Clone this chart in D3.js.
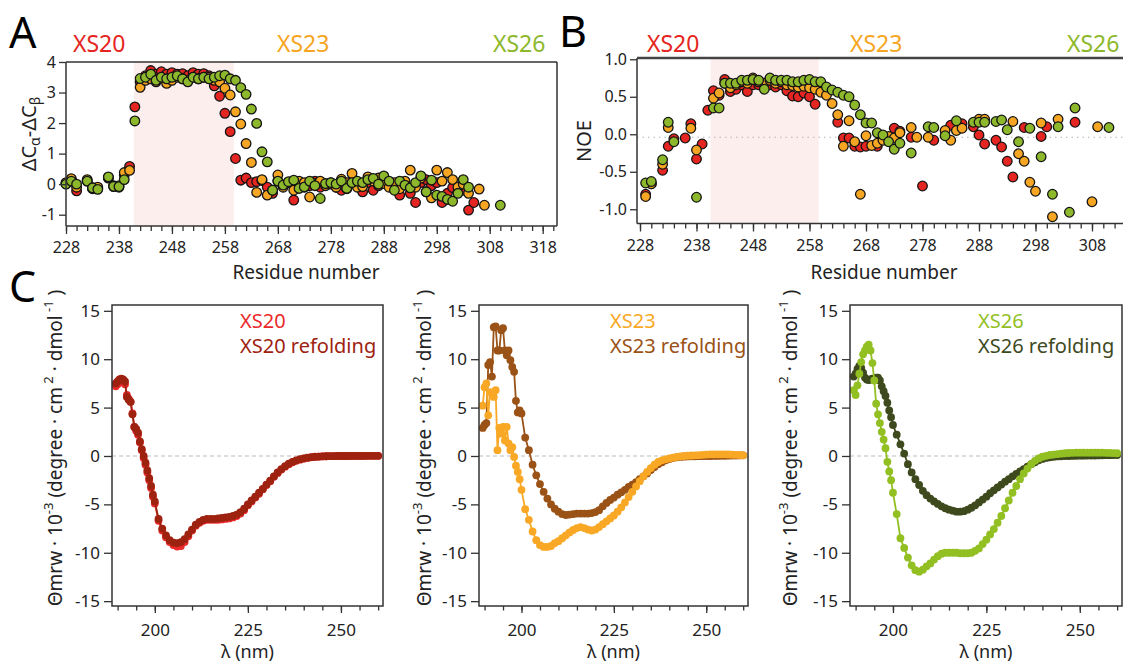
<!DOCTYPE html>
<html>
<head>
<meta charset="utf-8">
<title>XS20 / XS23 / XS26</title>
<style>
  body { margin: 0; background: #fff; }
  svg text { font-family: "Noto Sans", "DejaVu Sans", sans-serif; fill: #222; }
</style>
</head>
<body>
<svg id="fig" width="1123" height="664"></svg>
<script src="https://cdn.jsdelivr.net/npm/d3@7"></script>
<script>
// ---------- data: panels A and B (per residue, null = not observed) ----------
var residues = [228,229,230,231,232,233,234,235,236,237,238,239,240,241,242,243,244,245,246,247,
                248,249,250,251,252,253,254,255,256,257,258,259,260,261,262,263,264,265,266,267,
                268,269,270,271,272,273,274,275,276,277,278,279,280,281,282,283,284,285,286,287,
                288,289,290,291,292,293,294,295,296,297,298,299,300,301,302,303,304,305,306,307,
                308,309,310,311];

// secondary chemical shifts dCa-dCb
var csXS20 = [0.02,0.15,-0.22,null,0.1,-0.12,-0.15,null,0.2,-0.05,-0.1,0.3,0.58,2.53,3.35,3.55,3.72,3.6,3.68,3.6,
              3.65,3.6,3.62,3.55,3.65,3.6,3.62,3.55,3.22,2.88,2.32,1.72,0.84,0.13,0.2,0.05,0.08,0.12,-0.1,-0.3,
              0.1,-0.05,0.05,-0.52,0,-0.1,-0.05,0.1,-0.1,0,0.05,-0.1,-0.2,-0.15,0.1,-0.05,-0.25,0.05,-0.2,-0.05,
              0.1,0,-0.1,-0.36,0,-0.3,-0.6,0.05,0.15,-0.05,0.05,-0.6,-0.3,-0.11,-0.25,-0.2,-0.85,-0.6,null,null,
              null,null,null,null];
var csXS23 = [0.05,0.18,-0.1,null,0.15,-0.15,-0.1,null,0.22,-0.08,-0.05,0.38,0.45,null,3.17,3.4,3.45,3.35,3.5,3.3,
              3.4,3.5,3.45,3.4,3.5,3.45,3.5,3.5,3.4,3.35,3.14,2.92,2.37,1.97,1.33,0.71,-0.27,0.15,-0.36,-0.2,
              0.3,-0.1,0.05,-0.2,0.1,0.05,-0.42,0.02,0.1,-0.05,0,-0.1,0.16,0.05,0.35,-0.1,-0.08,0.24,0.1,0.2,
              0.02,-0.1,0.05,-0.15,0.1,0.46,-0.1,0.2,-0.25,-0.45,0.46,0.1,0.38,0.15,-0.1,0,-0.3,null,-0.16,-0.69,
              null,null,null,null];
var csXS26 = [0,0.1,0,null,0.1,-0.12,-0.17,null,0.24,-0.07,-0.08,0.15,null,2.07,3.46,3.5,3.6,3.4,3.5,3.45,
              3.5,3.55,3.45,3.35,3.5,3.45,3.5,3.45,3.5,3.55,3.57,3.45,3.4,3.16,2.94,2.46,1.99,1.06,0.73,-0.2,
              0.1,-0.03,0.08,0.13,-0.14,-0.09,0.1,-0.05,-0.47,0.02,0.05,0,0.1,-0.14,0.05,0.1,0.05,0.15,0.19,0,
              0.27,0.1,-0.2,0.1,-0.03,-0.12,0.05,0.27,-0.25,0.13,-0.36,-0.4,-0.5,-0.56,-0.3,0.15,-0.1,null,null,null,
              null,null,-0.69,null];

// heteronuclear NOE
var noeXS20 = [null,-0.8,-0.66,null,-0.48,-0.16,-0.06,null,-0.05,0.14,-0.33,-0.13,0.32,0.58,0.52,0.73,0.57,0.6,0.66,0.57,
               0.66,0.66,0.68,0.66,0.63,0.66,0.58,0.51,0.5,0.55,0.5,0.4,null,null,null,0.16,-0.05,-0.05,-0.16,-0.17,
               -0.16,null,-0.16,null,null,0.08,0.04,null,-0.04,null,-0.69,null,-0.08,null,null,0.12,null,0.14,null,0.1,
               -0.01,-0.13,null,-0.08,-0.17,-0.36,-0.57,null,0.09,null,null,-0.03,0.1,null,null,null,null,0.16,null,null,
               null,null,null,null];
var noeXS23 = [null,-0.83,-0.66,null,-0.4,0.09,null,null,null,0.08,-0.21,null,null,0.48,0.55,0.68,0.62,0.66,0.7,0.68,
               0.75,0.7,0.68,0.72,0.68,0.7,0.66,0.65,0.63,0.64,0.62,0.6,0.56,0.52,0.41,0.26,-0.16,0.18,-0.1,-0.8,
               -0.02,-0.15,-0.12,-0.08,-0.03,-0.05,0.02,null,0.09,-0.04,null,-0.04,null,null,0.05,-0.08,0.05,0.08,null,null,
               0.2,0.2,null,null,null,null,0.17,-0.26,-0.36,-0.64,-0.76,0.15,null,-1.1,0.2,null,null,null,null,null,
               -0.9,0.1,null,null];
var noeXS26 = [null,-0.65,-0.63,null,-0.34,0.16,-0.1,null,null,null,-0.84,null,null,0.35,0.35,0.68,0.68,0.68,0.72,0.72,
               0.73,0.72,0.6,0.75,0.72,0.72,0.72,0.7,0.7,0.72,0.73,0.7,0.7,0.63,0.59,0.56,0.52,0.5,0.39,0.26,
               0.15,0.15,0.02,-0.01,-0.1,-0.2,-0.12,null,-0.25,null,null,0.1,0.09,null,-0.02,null,0.18,null,null,0.16,
               0.16,0.16,null,0.17,0.19,0.06,null,-0.1,null,0.08,null,-0.3,null,-0.8,0.1,null,-1.04,0.35,null,null,
               null,null,null,0.09];

var residueTicks = [228,238,248,258,268,278,288,298,308,318];
var variantNames = ["XS20", "XS23", "XS26"];

// ---------- data: panel C (CD spectra) ----------
var wavelength = [189.5,190,190.5,191,191.5,192,192.5,193,193.5,194,194.5,195,195.5,196,196.5,197,197.5,198,198.5,199,199.5,
                  200,201,202,203,204,205,206,207,208,209,210,211,212,213,214,215,216,217,218,219,
                  220,221,222,223,224,225,226,227,228,229,230,231,232,233,234,235,236,237,238,239,
                  240,241,242,243,244,245,246,247,248,249,250,251,252,253,254,255,256,257,258,259,260];

var cdXS20 = [7.2,7.4,7.6,7.9,7.8,7.4,6.3,5.9,5.6,4.4,3.0,2.6,2.2,1.4,0.6,-0.2,-0.9,-1.7,-2.5,-3.3,-4.2,
              -4.9,-6.7,-7.7,-8.4,-8.9,-9.2,-9.35,-9.3,-8.9,-8.3,-7.7,-7.2,-6.9,-6.7,-6.6,-6.6,-6.6,-6.6,-6.55,-6.5,
              -6.45,-6.35,-6.2,-5.95,-5.6,-5.1,-4.7,-4.3,-3.9,-3.45,-3.0,-2.6,-2.15,-1.75,-1.4,-1.1,-0.85,-0.65,-0.5,-0.38,
              -0.28,-0.2,-0.14,-0.1,-0.07,-0.05,-0.03,-0.02,-0.01,0,0,0,0.01,0.01,0.01,0.01,0.02,0.02,0.02,0.02,0.02];
var cdXS20ref = [7.5,7.7,7.9,8.0,7.9,7.7,6.1,5.8,5.6,4.3,3.0,2.8,2.4,1.5,0.7,0.0,-0.7,-1.5,-2.3,-3.1,-4.0,
                 -4.7,-6.5,-7.5,-8.2,-8.7,-8.95,-9.0,-8.9,-8.6,-8.1,-7.6,-7.1,-6.8,-6.6,-6.5,-6.5,-6.5,-6.45,-6.4,-6.35,
                 -6.3,-6.2,-6.05,-5.8,-5.45,-5.0,-4.6,-4.2,-3.8,-3.4,-2.95,-2.55,-2.1,-1.7,-1.35,-1.05,-0.8,-0.6,-0.45,-0.33,
                 -0.24,-0.17,-0.12,-0.08,-0.06,-0.04,-0.03,-0.02,-0.01,0,0,0,0,0.01,0.01,0.01,0.01,0.02,0.02,0.02,0.02];
var cdXS23 = [5.2,7.1,7.5,4.2,6.6,6.5,6.1,6.8,0.6,2.9,2.3,3.0,1.6,3.0,1.3,0.6,0.9,-0.1,-1.0,-1.65,-2.4,
              -3.5,-5.5,-6.6,-7.8,-8.7,-9.2,-9.4,-9.4,-9.3,-9.0,-8.8,-8.5,-8.2,-7.9,-7.65,-7.45,-7.35,-7.45,-7.6,-7.7,
              -7.6,-7.35,-7.05,-6.75,-6.45,-6.15,-5.75,-5.3,-4.8,-4.25,-3.7,-3.15,-2.6,-2.1,-1.65,-1.25,-0.9,-0.62,-0.45,-0.35,
              -0.25,-0.17,-0.1,-0.04,0.0,0.03,0.05,0.07,0.08,0.12,0.15,0.17,0.17,0.17,0.17,0.17,0.16,0.14,0.12,0.1,0.07];
var cdXS23ref = [2.9,3.2,3.4,9.4,9.7,8.2,13.3,13.4,10.9,10.9,13.0,13.2,10.9,10.4,10.9,9.9,9.2,8.7,5.7,4.5,4.7,
                 4.4,1.9,0.6,-0.9,-2.0,-2.9,-3.7,-4.4,-5.0,-5.45,-5.75,-6.0,-6.1,-6.05,-6.0,-5.95,-5.95,-5.95,-5.95,-5.9,
                 -5.8,-5.6,-5.2,-4.85,-4.55,-4.3,-4.0,-3.75,-3.5,-3.2,-2.95,-2.7,-2.4,-2.1,-1.8,-1.45,-1.15,-0.85,-0.65,-0.45,
                 -0.32,-0.22,-0.14,-0.1,-0.07,-0.05,-0.04,-0.03,-0.02,-0.01,0,0,0.01,0.01,0.02,0.02,0.03,0.04,0.05,0.06,0.07];
var cdXS26 = [6.8,6.3,7.3,8.5,9.7,10.5,10.9,11.3,11.5,10.9,9.6,7.8,5.4,4.3,3.4,2.5,1.7,0.8,-0.6,-1.6,-2.5,
              -3.8,-6.0,-8.5,-9.5,-10.5,-11.3,-11.8,-11.95,-11.75,-11.4,-11.1,-10.7,-10.35,-10.1,-10.0,-10.0,-10.0,-10.0,-10.05,-10.05,
              -10.05,-10.0,-9.8,-9.55,-9.1,-8.65,-8.1,-7.55,-6.9,-6.2,-5.4,-4.6,-3.8,-3.1,-2.4,-1.8,-1.3,-0.85,-0.5,-0.25,
              -0.08,0.02,0.1,0.15,0.2,0.24,0.28,0.31,0.33,0.34,0.34,0.34,0.34,0.34,0.34,0.34,0.34,0.33,0.32,0.3,0.28];
var cdXS26ref = [8.2,8.5,9.0,9.3,9.1,8.6,8.1,7.9,7.85,7.9,8.0,7.9,8.1,8.1,7.8,7.2,6.7,6.2,5.5,4.7,4.0,
                 3.2,2.2,1.2,0.25,-0.85,-1.7,-2.4,-3.0,-3.6,-4.05,-4.4,-4.7,-4.95,-5.2,-5.4,-5.55,-5.65,-5.75,-5.75,-5.7,
                 -5.55,-5.35,-5.1,-4.8,-4.5,-4.2,-3.85,-3.55,-3.25,-2.95,-2.65,-2.4,-2.1,-1.85,-1.6,-1.35,-1.1,-0.85,-0.65,-0.45,
                 -0.3,-0.2,-0.13,-0.08,-0.05,-0.03,-0.01,0,0.01,0.02,0.03,0.03,0.04,0.05,0.05,0.06,0.07,0.08,0.08,0.09,0.1];

var cdYTicks = [15,10,5,0,-5,-10,-15];
var cdXTicks = [200,225,250];

// ---------- colours ----------
var dotColors = ["#e52521", "#f6a623", "#8db82c"];
var cdColors = {
  XS20: ["#ea2a2a", "#9e2210"],
  XS23: ["#f8a825", "#9a5216"],
  XS26: ["#92bf22", "#3e4a1e"]
};

var svg = d3.select("#fig");
var FONT = '"Noto Sans", "DejaVu Sans", sans-serif';

function dash(f) {
  return function(d) { return d3.format(f)(d).replace("\u2212", "-"); };
}

function styleAxis(g, size) {
  g.attr("font-family", FONT).attr("font-size", size || 16);
  g.select(".domain").remove();
  g.selectAll(".tick line").attr("stroke", "#333").attr("stroke-width", 1.3);
  g.selectAll(".tick text").attr("fill", "#222");
}

// minor ticks only: no labels
function minorAxis(g) {
  styleAxis(g);
  g.selectAll(".tick text").remove();
}

// ---------- scatter panels A and B ----------
function scatterPanel(p) {
  var g = svg.append("g");
  var x = d3.scaleLinear().domain(p.xDomain).range([p.left, p.right]);
  var y = d3.scaleLinear().domain(p.yDomain).range([p.bottom, p.top]);

  g.append("rect")
    .attr("x", x(p.band[0])).attr("y", p.top)
    .attr("width", x(p.band[1]) - x(p.band[0]))
    .attr("height", p.bottom - p.top)
    .attr("fill", "#fdeeee");

  if (p.zeroLine != null) {
    g.append("line")
      .attr("x1", p.left).attr("x2", p.right)
      .attr("y1", y(p.zeroLine)).attr("y2", y(p.zeroLine))
      .attr("stroke", "#b5b5b5").attr("stroke-width", 1.2)
      .attr("stroke-dasharray", "1.5,4");
  }

  p.series.forEach(function(vals, si) {
    var pts = residues.map(function(r, i) { return [r, vals[i]]; })
                      .filter(function(d) { return d[1] != null; });
    g.selectAll(null).data(pts).enter().append("circle")
      .attr("cx", function(d) { return x(d[0]); })
      .attr("cy", function(d) { return y(d[1]); })
      .attr("r", 4.8)
      .attr("fill", dotColors[si])
      .attr("stroke", "#141414")
      .attr("stroke-width", 1.3);
  });

  // axes
  var gxm = g.append("g").attr("transform", "translate(0," + p.bottom + ")")
    .call(d3.axisBottom(x).tickValues(d3.range(228, p.xDomain[1], 2)).tickSize(5));
  minorAxis(gxm);
  var gx = g.append("g").attr("transform", "translate(0," + p.bottom + ")")
    .call(d3.axisBottom(x).tickValues(residueTicks.filter(function(t) { return t <= p.xDomain[1]; }))
      .tickSize(8).tickPadding(8).tickFormat(d3.format("d")));
  styleAxis(gx);
  var gy = g.append("g").attr("transform", "translate(" + p.left + ",0)")
    .call(d3.axisLeft(y).tickValues(p.yTicks).tickSize(7).tickPadding(3).tickFormat(dash(p.yFormat)));
  styleAxis(gy);

  // frame
  var frame = g.append("g").attr("fill", "none").attr("stroke", "#333").attr("stroke-width", 1.5);
  frame.append("line").attr("x1", p.left).attr("x2", p.left).attr("y1", p.top).attr("y2", p.bottom);
  frame.append("line").attr("x1", p.left).attr("x2", p.right).attr("y1", p.bottom).attr("y2", p.bottom);
  frame.append("line").attr("x1", p.left).attr("x2", p.right).attr("y1", p.top).attr("y2", p.top)
    .attr("stroke-width", p.topWidth || 1.5).attr("stroke", p.topColor || "#333");
  if (p.rightLine) {
    frame.append("line").attr("x1", p.right).attr("x2", p.right).attr("y1", p.top).attr("y2", p.bottom);
  }

  // variant headers
  variantNames.forEach(function(n, i) {
    svg.append("text").attr("x", p.headerX[i]).attr("y", 52)
      .attr("font-size", 23).style("fill", dotColors[i]).text(n);
  });

  svg.append("text").attr("x", p.xTitleX).attr("y", 279)
    .attr("text-anchor", "middle").attr("font-size", 19).text("Residue number");
  return { x: x, y: y };
}

scatterPanel({
  left: 66, right: 557, top: 62, bottom: 226,
  xDomain: [228, 320.7], yDomain: [-1.37, 4],
  yTicks: [4, 3, 2, 1, 0, -1], yFormat: "d",
  band: [240.8, 259.7],
  series: [csXS20, csXS23, csXS26],
  rightLine: true,
  headerX: [73, 277, 493],
  xTitleX: 306
});

scatterPanel({
  left: 637, right: 1135, top: 58, bottom: 223.5,
  xDomain: [227.47, 227.47 + 498 / 5.65], yDomain: [-1.19, 1.017],
  yTicks: [1, 0.5, 0, -0.5, -1], yFormat: ".1f",
  band: [240.5, 259.6],
  zeroLine: -0.04,
  series: [noeXS20, noeXS23, noeXS26],
  rightLine: false, topWidth: 2.6, topColor: "#444",
  headerX: [647, 850, 1067],
  xTitleX: 884
});

// y titles of A and B
var yA = svg.append("text").attr("transform", "translate(36,134) rotate(-90)")
  .attr("text-anchor", "middle").attr("font-size", 20);
yA.append("tspan").text("\u0394C");
yA.append("tspan").attr("font-size", 14).attr("dy", 4).text("\u03b1");
yA.append("tspan").attr("dy", -4).text("-\u0394C");
yA.append("tspan").attr("font-size", 14).attr("dy", 4).text("\u03b2");

svg.append("text").attr("transform", "translate(591,141) rotate(-90)")
  .attr("text-anchor", "middle").attr("font-size", 20).text("NOE");

// ---------- CD panels ----------
function cdPanel(p) {
  var g = svg.append("g");
  var x = d3.scaleLinear().domain([188.5, 261.3]).range([p.left, p.right]);
  var y = d3.scaleLinear().domain([-15.5, 15.6]).range([606, 305]);
  var cols = cdColors[p.name];

  g.append("line")
    .attr("x1", p.left).attr("x2", p.right).attr("y1", y(0)).attr("y2", y(0))
    .attr("stroke", "#bdbdbd").attr("stroke-width", 1.2).attr("stroke-dasharray", "4,3");

  var line = d3.line().x(function(d) { return x(d[0]); }).y(function(d) { return y(d[1]); });
  p.order.forEach(function(k) {
    var vals = p.series[k];
    var pts = wavelength.map(function(w, i) { return [w, vals[i]]; });
    g.append("path").datum(pts).attr("d", line)
      .attr("fill", "none").attr("stroke", cols[k]).attr("stroke-width", 1.8);
    g.selectAll(null).data(pts).enter().append("circle")
      .attr("cx", function(d) { return x(d[0]); })
      .attr("cy", function(d) { return y(d[1]); })
      .attr("r", 3.9).attr("fill", cols[k]);
  });

  var gxm = g.append("g").attr("transform", "translate(0,606)")
    .call(d3.axisBottom(x).tickValues(d3.range(190, 261, 5)).tickSize(4.5));
  minorAxis(gxm);
  var gx = g.append("g").attr("transform", "translate(0,606)")
    .call(d3.axisBottom(x).tickValues(cdXTicks).tickSize(7).tickPadding(11).tickFormat(d3.format("d")));
  styleAxis(gx, 17);
  var gy = g.append("g").attr("transform", "translate(" + p.left + ",0)")
    .call(d3.axisLeft(y).tickValues(cdYTicks).tickSize(8).tickPadding(4).tickFormat(dash("d")));
  styleAxis(gy, 17);

  g.append("rect").attr("x", p.left).attr("y", 305)
    .attr("width", p.right - p.left).attr("height", 301)
    .attr("fill", "none").attr("stroke", "#333").attr("stroke-width", 1.5);

  // legend
  g.append("text").attr("x", p.legendX).attr("y", 328).attr("font-size", 20)
    .style("fill", cols[0]).text(p.name);
  g.append("text").attr("x", p.legendX).attr("y", 353).attr("font-size", 20)
    .style("fill", cols[1]).text(p.name + " refolding");

  // axis titles
  g.append("text").attr("x", (p.left + p.right) / 2).attr("y", 658)
    .attr("text-anchor", "middle").attr("font-size", 18).text("\u03bb (nm)");

  var t = g.append("text")
    .attr("transform", "translate(" + p.titleX + ",448) rotate(-90)")
    .attr("text-anchor", "middle").attr("font-size", 19);
  t.append("tspan").text("\u0398mrw \u00b7 10");
  t.append("tspan").attr("font-size", 13).attr("dy", -9).text("-3");
  t.append("tspan").attr("dy", 9).text(" (degree \u00b7 cm");
  t.append("tspan").attr("font-size", 13).attr("dy", -9).text(" 2");
  t.append("tspan").attr("dy", 9).text(" \u00b7 dmol");
  t.append("tspan").attr("font-size", 13).attr("dy", -9).text(" -1");
  t.append("tspan").attr("dy", 9).text(" )");
}

cdPanel({ name: "XS20", left: 112, right: 383, legendX: 240, titleX: 62,
          series: [cdXS20, cdXS20ref], order: [0, 1] });
cdPanel({ name: "XS23", left: 479, right: 748, legendX: 610, titleX: 431,
          series: [cdXS23, cdXS23ref], order: [1, 0] });
cdPanel({ name: "XS26", left: 850, right: 1122, legendX: 978, titleX: 797,
          series: [cdXS26, cdXS26ref], order: [1, 0] });

// panel letters
[["A", 9, 48], ["B", 559, 47], ["C", 9, 302]].forEach(function(d) {
  svg.append("text").attr("x", d[1]).attr("y", d[2]).attr("font-size", 43)
    .style("fill", "#000").text(d[0]);
});
</script>
</body>
</html>
